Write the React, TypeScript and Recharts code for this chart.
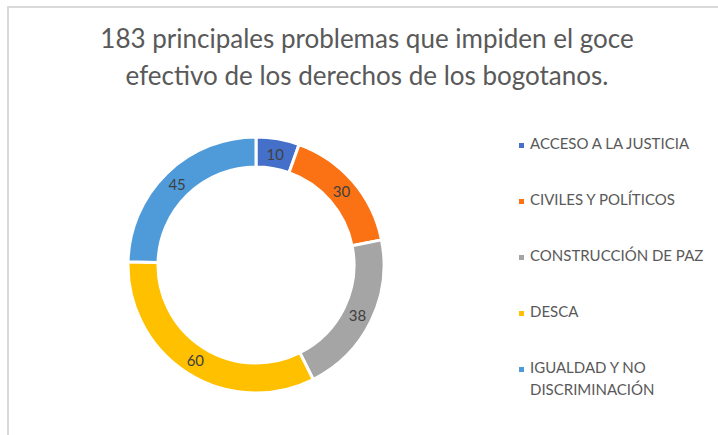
import { PieChart, Pie, Cell, Legend } from "recharts";

const categories = [
  "ACCESO A LA JUSTICIA",
  "CIVILES Y POLÍTICOS",
  "CONSTRUCCIÓN DE PAZ",
  "DESCA",
  "IGUALDAD Y NO DISCRIMINACIÓN",
];
const values = [10, 30, 38, 60, 45];
const colors = ["#4470CA", "#FA7214", "#A5A5A5", "#FFC000", "#4F9BDA"];
const titleLines = [
  "183 principales problemas que impiden el goce",
  "efectivo de los derechos de los bogotanos.",
];

const data = categories.map((name, i) => ({ name, value: values[i] }));

const RADIAN = Math.PI / 180;

const renderLabel = (props: any) => {
  const { cx, cy, midAngle, innerRadius, outerRadius, value } = props;
  const r = (innerRadius + outerRadius) / 2;
  const x = cx + r * Math.cos(-midAngle * RADIAN);
  const y = cy + r * Math.sin(-midAngle * RADIAN);
  return (
    <text
      x={x}
      y={y}
      fill="#404040"
      fontSize={15}
      fontFamily="Lato, sans-serif"
      textAnchor="middle"
      dominantBaseline="central"
    >
      {value}
    </text>
  );
};

const LegendContent = () => (
  <div style={{ fontFamily: "Lato, sans-serif", fontSize: 15, color: "#595959" }}>
    {categories.map((name, i) => (
      <div
        key={name}
        style={{ display: "flex", alignItems: "flex-start", height: 56, width: 200 }}
      >
        <span
          style={{
            display: "inline-block",
            width: 5,
            height: 5,
            background: colors[i],
            marginTop: 6,
            marginRight: 6,
            flexShrink: 0,
          }}
        />
        <span style={{ maxWidth: 185, lineHeight: "22px", marginTop: -5, whiteSpace: "normal" }}>
          {name}
        </span>
      </div>
    ))}
  </div>
);

export default function App() {
  return (
    <div
      style={{
        position: "fixed",
        left: 0,
        top: 0,
        width: 718,
        height: 435,
        background: "#fff",
        overflow: "hidden",
      }}
    >
      <div
        style={{
          position: "absolute",
          left: 7,
          top: 6,
          width: 740,
          height: 460,
          border: "2px solid #d9d9d9",
        }}
      />
      <div
        style={{
          position: "absolute",
          left: 0,
          top: 20,
          width: 734,
          textAlign: "center",
          fontFamily: "Lato, sans-serif",
          fontSize: 26,
          lineHeight: "37px",
          color: "#595959",
        }}
      >
        {titleLines.map((l) => (
          <div key={l}>{l}</div>
        ))}
      </div>
      <div style={{ position: "absolute", left: 0, top: 0 }}>
        <PieChart width={718} height={435} margin={{ top: 0, right: 0, bottom: 0, left: 0 }}>
          <Pie
            data={data}
            dataKey="value"
            nameKey="name"
            cx={256}
            cy={265}
            innerRadius={98}
            outerRadius={128}
            startAngle={90}
            endAngle={-270}
            stroke="#fff"
            strokeWidth={3}
            label={renderLabel}
            labelLine={false}
            isAnimationActive={false}
          >
            {data.map((d, i) => (
              <Cell key={d.name} fill={colors[i]} />
            ))}
          </Pie>
          <Legend
            content={<LegendContent />}
            layout="vertical"
            wrapperStyle={{ position: "absolute", left: 519, top: 137, width: 200 }}
          />
        </PieChart>
      </div>
    </div>
  );
}
